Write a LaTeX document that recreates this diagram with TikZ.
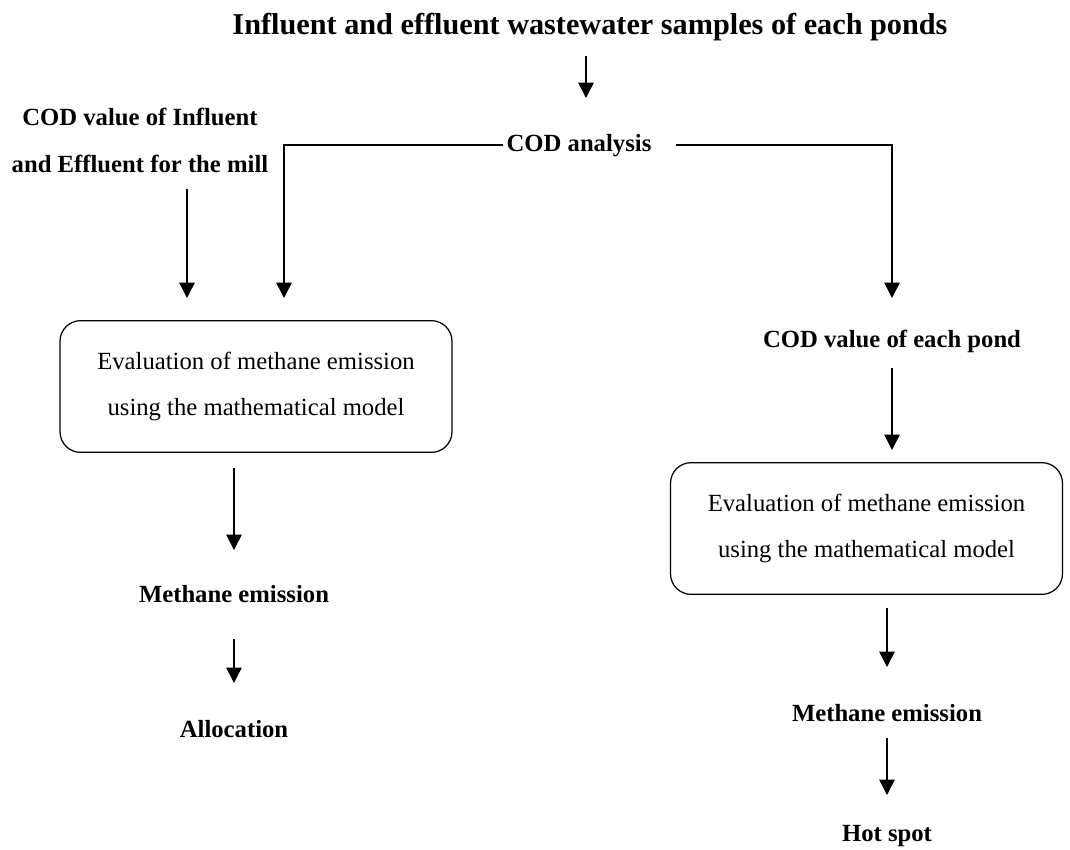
\documentclass[tikz,border=0pt]{standalone}
\usepackage{fontspec}
\setmainfont{Liberation Serif}
\usetikzlibrary{arrows.meta}
\begin{document}
\begin{tikzpicture}[x=0.486pt,y=-0.486pt,
  lbl/.style={font=\fontsize{12}{22.8}\selectfont\bfseries, inner sep=0pt, align=center},
  ttl/.style={font=\fontsize{14.7}{17}\selectfont\bfseries, inner sep=0pt},
  evalbox/.style={draw, line width=0.6pt, rounded corners=10pt, inner sep=0pt,
    minimum width=190.5pt, minimum height=64pt, align=center,
    font=\fontsize{12}{22.8}\selectfont},
  arr/.style={line width=0.75pt, -{Triangle[width=7.5pt,length=7.5pt]}}]
\useasboundingbox (0,0) rectangle (1070,849);

% text nodes
\node[ttl] (title) at (590,27) {Influent and effluent wastewater samples of each ponds};
\node[lbl] (cod) at (579,146) {COD analysis};
\node[lbl] (codmill) at (140,140) {COD value of Influent\\and Effluent for the mill};
\node[lbl] (codpond) at (892,341) {COD value of each pond};
\node[evalbox] (evalL) at (256,386.5) {Evaluation of methane emission\\using the mathematical model};
\node[evalbox] (evalR) at (866.5,528.5) {Evaluation of methane emission\\using the mathematical model};
\node[lbl] (methL) at (234,594) {Methane emission};
\node[lbl] (alloc) at (234,729) {Allocation};
\node[lbl] (methR) at (887,713) {Methane emission};
\node[lbl] (hot) at (887,836) {Hot spot};

% arrow end points
\coordinate (t0) at (586,56);  \coordinate (t1) at (586,98);
\coordinate (jL) at (284,145); \coordinate (tipL) at (284,298);
\coordinate (jR) at (892,145); \coordinate (tipR) at (892,298);
\coordinate (m0) at (187,189); \coordinate (m1) at (187,298);
\coordinate (p0) at (892,368); \coordinate (p1) at (892,450);
\coordinate (a0) at (234,468); \coordinate (a1) at (234,550);
\coordinate (b0) at (234,639); \coordinate (b1) at (234,683);
\coordinate (c0) at (887,608); \coordinate (c1) at (887,667);
\coordinate (d0) at (887,738); \coordinate (d1) at (887,795);

% connectors
\draw[arr] (t0) -- (t1);
\draw[arr] ([xshift=-1.5pt]cod.west |- jL) -- (jL) -- (tipL);
\draw[arr] ([xshift=12pt]cod.east |- jR) -- (jR) -- (tipR);
\draw[arr] (m0) -- (m1);
\draw[arr] (p0) -- (p1);
\draw[arr] (a0) -- (a1);
\draw[arr] (b0) -- (b1);
\draw[arr] (c0) -- (c1);
\draw[arr] (d0) -- (d1);
\end{tikzpicture}
\end{document}
